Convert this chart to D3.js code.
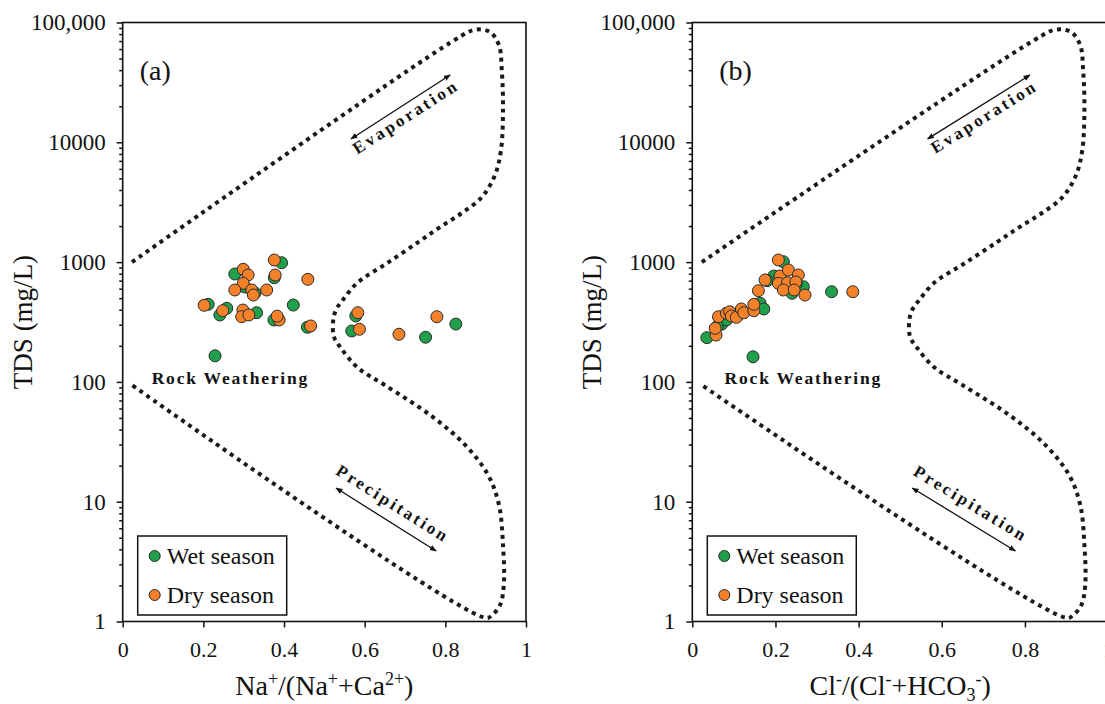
<!DOCTYPE html>
<html>
<head>
<meta charset="utf-8">
<script src="https://cdn.jsdelivr.net/npm/d3@7"></script>
<style>
  body { margin: 0; background: #fff; }
  svg text { font-family: 'Liberation Serif', 'Times New Roman', serif; fill: #111; }
</style>
</head>
<body>
<svg id="chart" width="1105" height="704"></svg>
<script>
// ---- data ----
const xTickValues = [0, 0.2, 0.4, 0.6, 0.8, 1]
const yTickValues = [1, 10, 100, 1000, 10000, 100000]
const yTickLabels = ['1', '10', '100', '1000', '10000', '100,000']
const seasonNames = ['Wet season', 'Dry season']
const seasonColors = ['#20a04a', '#f3812a']

// (a) Na+/(Na+ + Ca2+) vs TDS
const wetNa = [
    [0.394, 988], [0.278, 796], [0.376, 741], [0.303, 620], [0.328, 552],
    [0.212, 444], [0.258, 411], [0.241, 362], [0.332, 378], [0.423, 438],
    [0.375, 329], [0.458, 286], [0.229, 165], [0.578, 355], [0.568, 266],
    [0.751, 236], [0.826, 304]
]
const dryNa = [
    [0.376, 1041], [0.299, 871], [0.311, 780], [0.378, 780], [0.459, 718],
    [0.299, 665], [0.278, 585], [0.320, 585], [0.324, 531], [0.357, 585],
    [0.202, 436], [0.248, 393], [0.298, 398], [0.295, 350], [0.313, 362],
    [0.388, 329], [0.383, 354], [0.466, 293], [0.583, 378], [0.587, 275],
    [0.685, 250], [0.779, 350]
]

// (b) Cl-/(Cl- + HCO3-) vs TDS
const wetCl = [
    [0.035, 234], [0.071, 304], [0.082, 329], [0.163, 453], [0.172, 406],
    [0.196, 765], [0.219, 1007], [0.240, 549], [0.267, 623], [0.335, 566],
    [0.146, 162], [0.060, 290], [0.110, 360], [0.250, 660], [0.180, 700]
]
const dryCl = [
    [0.057, 246], [0.055, 280], [0.063, 350], [0.082, 374], [0.090, 385],
    [0.094, 355], [0.106, 346], [0.118, 406], [0.124, 378], [0.148, 393],
    [0.148, 444], [0.159, 577], [0.175, 709], [0.207, 1041], [0.211, 765],
    [0.231, 859], [0.255, 780], [0.207, 665], [0.229, 673], [0.249, 682],
    [0.219, 585], [0.245, 585], [0.271, 531], [0.386, 566]
]

// Gibbs boundary (ratio, TDS)
const gibbsRatio = [0.023, 0.824, 0.874, 0.911, 0.933, 0.940, 0.943, 0.938, 0.923, 0.891,
    0.841, 0.787, 0.733, 0.656, 0.581, 0.546, 0.530, 0.522, 0.524, 0.541,
    0.581, 0.650, 0.762, 0.849, 0.906, 0.933, 0.943, 0.945, 0.936, 0.916,
    0.901, 0.023]
const gibbsTDS = [1000, 71800, 87100, 83200, 64600, 39800, 18600, 8630, 5330, 3500,
    2570, 1960, 1470, 982, 668, 483, 406, 329, 237, 192,
    133, 94, 53, 29.8, 16.7, 9.4, 4.35, 2.02, 1.38, 1.13,
    1.07, 94]

// annotation anchors (ratio, TDS)
const evapArrow = [[0.566, 10670], [0.812, 36500]]
const evapLabel = [0.702, 16300]
const precipArrow = [[0.529, 13], [0.777, 3.88]]
const precipLabel = [0.670, 9.6]
const rockLabel = [0.267, 108]

const panels = [
    { tag: '(a)', tagX: 17, left: 122.7, width: 403.3, wet: wetNa, dry: dryNa,
      title: [['Na'], ['+', 'sup'], ['/(Na'], ['+', 'sup'], ['+Ca'], ['2+', 'sup'], [')']] },
    { tag: '(b)', tagX: 27, left: 692.3, width: 415.8, wet: wetCl, dry: dryCl,
      title: [['Cl'], ['-', 'sup'], ['/(Cl'], ['-', 'sup'], ['+HCO'], ['3', 'sub'], ['-', 'sup'], [')']] }
]

const plotTop = 22.5
const plotHeight = 599

const svg = d3.select('#chart')

const defs = svg.append('defs')
defs.append('marker')
    .attr('id', 'head')
    .attr('viewBox', '0 0 10 10')
    .attr('refX', 9).attr('refY', 5)
    .attr('markerWidth', 7).attr('markerHeight', 7)
    .attr('markerUnits', 'userSpaceOnUse')
    .attr('orient', 'auto-start-reverse')
    .append('path')
    .attr('d', 'M0,1 L10,5 L0,9 Z')
    .attr('fill', '#111')

const minorTicks = d3.range(0, 5).flatMap(e => d3.range(2, 10).map(k => k * Math.pow(10, e)))

const drawPanel = p => {
    const g = svg.append('g').attr('transform', `translate(${p.left},${plotTop})`)
    const x = d3.scaleLinear().domain([0, 1]).range([0, p.width])
    const y = d3.scaleLog().domain([1, 1e5]).range([plotHeight, 0])

    // boundary
    const line = d3.line()
        .x(d => x(d[0]))
        .y(d => y(d[1]))
        .curve(d3.curveCatmullRom.alpha(0.5))
    g.append('path')
        .datum(d3.zip(gibbsRatio, gibbsTDS))
        .attr('d', line)
        .attr('fill', 'none')
        .attr('stroke', '#1a1a1a')
        .attr('stroke-width', 4)
        .attr('stroke-dasharray', '4 4.5')

    // axes
    const yAxis = g.append('g')
        .call(d3.axisLeft(y).tickValues(yTickValues)
            .tickFormat((d, i) => yTickLabels[i]).tickSize(6).tickPadding(11))
    yAxis.selectAll('text').attr('font-size', 23)
    g.append('g')
        .call(d3.axisLeft(y).tickValues(minorTicks).tickFormat('').tickSize(3.5))

    const xAxis = g.append('g')
        .attr('transform', `translate(0,${plotHeight})`)
        .call(d3.axisBottom(x).tickValues(xTickValues)
            .tickFormat(d => (d === 0 || d === 1) ? d : d.toFixed(1)).tickSize(6).tickPadding(14))
    xAxis.selectAll('text').attr('font-size', 22)

    g.selectAll('.domain').remove()
    g.selectAll('.tick line').attr('stroke', '#111').attr('stroke-width', 1.5)
    g.selectAll('.tick text').attr('fill', '#111')

    g.append('rect')
        .attr('width', p.width).attr('height', plotHeight)
        .attr('fill', 'none').attr('stroke', '#111').attr('stroke-width', 1.6)

    // annotations
    const arrowLine = (pts, label) => {
        const [a, b] = pts.map(d => [x(d[0]), y(d[1])])
        g.append('line')
            .attr('x1', a[0]).attr('y1', a[1]).attr('x2', b[0]).attr('y2', b[1])
            .attr('stroke', '#111').attr('stroke-width', 1.3)
            .attr('marker-start', 'url(#head)').attr('marker-end', 'url(#head)')
        const angle = Math.atan2(b[1] - a[1], b[0] - a[0]) * 180 / Math.PI
        g.append('text')
            .attr('transform', `translate(${x(label.at[0])},${y(label.at[1])}) rotate(${angle})`)
            .attr('text-anchor', 'middle')
            .attr('dominant-baseline', 'central')
            .attr('font-size', 17)
            .attr('font-weight', 'bold')
            .attr('letter-spacing', label.spacing)
            .text(label.text)
    }
    arrowLine(evapArrow, { at: evapLabel, text: 'Evaporation', spacing: 2.9 })
    arrowLine(precipArrow, { at: precipLabel, text: 'Precipitation', spacing: 2.8 })

    g.append('text')
        .attr('x', x(rockLabel[0])).attr('y', y(rockLabel[1]))
        .attr('text-anchor', 'middle')
        .attr('dominant-baseline', 'central')
        .attr('font-size', 17.5)
        .attr('font-weight', 'bold')
        .attr('letter-spacing', 1.8)
        .text('Rock Weathering')

    g.append('text')
        .attr('x', p.tagX).attr('y', 57)
        .attr('font-size', 28)
        .text(p.tag)

    // points: wet first, dry on top
    ;[p.wet, p.dry].forEach((set, i) => {
        g.append('g').selectAll('circle').data(set).enter()
            .append('circle')
            .attr('cx', d => x(d[0]))
            .attr('cy', d => y(d[1]))
            .attr('r', 6)
            .attr('fill', seasonColors[i])
            .attr('stroke', '#2b2b2b')
            .attr('stroke-width', 1)
    })

    // legend
    const lg = g.append('g').attr('transform', 'translate(15,513.5)')
    lg.append('rect').attr('width', 149).attr('height', 79)
        .attr('fill', '#fff').attr('stroke', '#111').attr('stroke-width', 1.5)
    seasonNames.forEach((name, i) => {
        const row = lg.append('g').attr('transform', `translate(0,${20 + i * 39})`)
        row.append('circle').attr('cx', 17).attr('r', 5.5)
            .attr('fill', seasonColors[i]).attr('stroke', '#2b2b2b').attr('stroke-width', 1)
        row.append('text').attr('x', 29).attr('dominant-baseline', 'central')
            .attr('font-size', 24).text(name)
    })

    // axis titles
    g.append('text')
        .attr('transform', `translate(-91,${plotHeight / 2}) rotate(-90)`)
        .attr('text-anchor', 'middle')
        .attr('font-size', 27)
        .text('TDS (mg/L)')

    const xt = g.append('text')
        .attr('x', p.width / 2).attr('y', plotHeight + 73.5)
        .attr('text-anchor', 'middle')
        .attr('font-size', 28)
    let shift = 0
    p.title.forEach(([t, kind]) => {
        const target = kind === 'sup' ? -10 : kind === 'sub' ? 6 : 0
        const span = xt.append('tspan').attr('dy', target - shift).text(t)
        if (kind) span.attr('font-size', 18)
        shift = target
    })
}

panels.forEach(drawPanel)
</script>
</body>
</html>
